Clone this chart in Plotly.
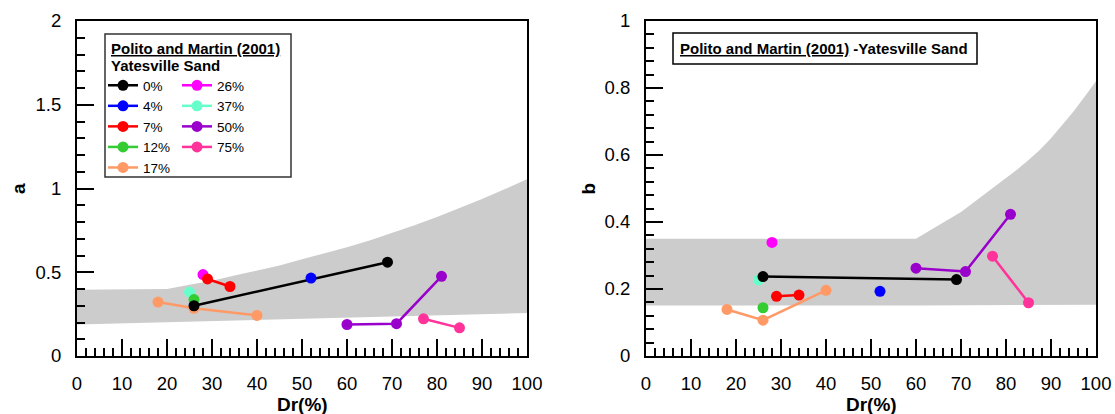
import plotly.graph_objects as go

W, H = 1115, 414
FONT = "Liberation Sans, Arial, sans-serif"

# ---------------- data ----------------
levels = ["0%", "4%", "7%", "12%", "17%", "26%", "37%", "50%", "75%"]
level_colors = ["#000000", "#0000ff", "#ff0000", "#33cc33", "#ff9966",
                "#ff00ff", "#66ffcc", "#9900cc", "#ff3399"]

# panel (a): Dr(%) and a
dr_a_0, a_0 = [26, 69], [0.30, 0.56]
dr_a_4, a_4 = [52], [0.465]
dr_a_7, a_7 = [29, 34], [0.46, 0.415]
dr_a_12, a_12 = [26], [0.337]
dr_a_17, a_17 = [18, 26, 40], [0.322, 0.285, 0.242]
dr_a_26, a_26 = [28], [0.486]
dr_a_37, a_37 = [25], [0.382]
dr_a_50, a_50 = [60, 71, 81], [0.188, 0.193, 0.476]
dr_a_75, a_75 = [77, 85], [0.222, 0.168]

# panel (b): Dr(%) and b
dr_b_0, b_0 = [26, 69], [0.237, 0.228]
dr_b_4, b_4 = [52], [0.193]
dr_b_7, b_7 = [29, 34], [0.178, 0.182]
dr_b_12, b_12 = [26], [0.144]
dr_b_17, b_17 = [18, 26, 40], [0.139, 0.107, 0.196]
dr_b_26, b_26 = [28], [0.339]
dr_b_37, b_37 = [25], [0.227]
dr_b_50, b_50 = [60, 71, 81], [0.262, 0.252, 0.423]
dr_b_75, b_75 = [77, 85], [0.298, 0.159]

# grey bands (edges)
band_a_up_x = [0, 20, 25, 30, 35, 40, 45, 50, 55, 60, 65, 70, 75, 80, 85,
               90, 95, 100]
band_a_up = [0.395, 0.40, 0.425, 0.45, 0.48, 0.51, 0.54, 0.577, 0.612, 0.65,
             0.69, 0.735, 0.78, 0.83, 0.882, 0.937, 0.995, 1.055]
band_a_lo_x = [0, 100]
band_a_lo = [0.188, 0.257]

band_b_up_x = [0, 60, 62.5, 65, 67.5, 70, 72.5, 75, 77.5, 80, 82.5, 85,
               87.5, 90, 92.5, 95, 97.5, 100]
band_b_up = [0.35, 0.35, 0.37, 0.39, 0.41, 0.43, 0.455, 0.48, 0.505, 0.53,
             0.557, 0.585, 0.615, 0.65, 0.69, 0.73, 0.775, 0.82]
band_b_lo_x = [0, 60, 100]
band_b_lo = [0.151, 0.151, 0.153]

x_ticks = [0, 10, 20, 30, 40, 50, 60, 70, 80, 90, 100]

series_a = {
    "0%": (dr_a_0, a_0), "4%": (dr_a_4, a_4), "7%": (dr_a_7, a_7),
    "12%": (dr_a_12, a_12), "17%": (dr_a_17, a_17), "26%": (dr_a_26, a_26),
    "37%": (dr_a_37, a_37), "50%": (dr_a_50, a_50), "75%": (dr_a_75, a_75),
}
series_b = {
    "0%": (dr_b_0, b_0), "4%": (dr_b_4, b_4), "7%": (dr_b_7, b_7),
    "12%": (dr_b_12, b_12), "17%": (dr_b_17, b_17), "26%": (dr_b_26, b_26),
    "37%": (dr_b_37, b_37), "50%": (dr_b_50, b_50), "75%": (dr_b_75, b_75),
}
draw_order = ["17%", "26%", "37%", "12%", "7%", "0%", "4%", "50%", "75%"]

# ---------------- figure ----------------
fig = go.Figure()

def band(xu, yu, xl, yl, xa, ya):
    fig.add_trace(go.Scatter(
        x=list(xu) + list(xl)[::-1], y=list(yu) + list(yl)[::-1],
        fill="toself", fillcolor="#cccccc", mode="lines",
        line=dict(width=0, color="#cccccc"),
        showlegend=False, hoverinfo="skip", xaxis=xa, yaxis=ya))

band(band_a_up_x, band_a_up, band_a_lo_x, band_a_lo, "x", "y")
band(band_b_up_x, band_b_up, band_b_lo_x, band_b_lo, "x2", "y2")

for lev in draw_order:
    i = levels.index(lev)
    col = level_colors[i]
    xs, ys = series_a[lev]
    fig.add_trace(go.Scatter(
        x=xs, y=ys, mode="lines+markers", name=lev,
        line=dict(color=col, width=2.5), marker=dict(color=col, size=11),
        xaxis="x", yaxis="y", showlegend=True,
        legend="legend" if i < 5 else "legend2", legendrank=i + 1))
    xs, ys = series_b[lev]
    fig.add_trace(go.Scatter(
        x=xs, y=ys, mode="lines+markers", name=lev,
        line=dict(color=col, width=2.5), marker=dict(color=col, size=11),
        xaxis="x2", yaxis="y2", showlegend=False))

# plot-area geometry (pixels)
L1, R1, L2, R2 = 77, 527, 646, 1096
TOP, BOT = 21, 356

def px(x):
    return x / W

def py(y):
    return 1 - y / H

common_x = dict(range=[0, 100], tickmode="array", tickvals=x_ticks,
                ticks="inside", ticklen=17, tickwidth=2, tickcolor="black",
                minor=dict(dtick=2, tick0=0, ticks="inside", ticklen=8,
                           tickwidth=1.5, tickcolor="black", showgrid=False),
                showline=True, linewidth=2, linecolor="black", mirror=True,
                showgrid=False, zeroline=False, automargin=False,
                tickfont=dict(family=FONT, size=18.5, color="black"),
                ticklabelstandoff=10)
common_y = dict(ticks="inside", ticklen=17, tickwidth=2, tickcolor="black",
                showline=True, linewidth=2, linecolor="black", mirror=True,
                showgrid=False, zeroline=False, automargin=False,
                tickfont=dict(family=FONT, size=18.5, color="black"),
                ticklabelstandoff=10)

leg_common = dict(xanchor="left", yanchor="top", bgcolor="rgba(0,0,0,0)",
                  borderwidth=0, tracegroupgap=0, itemwidth=30,
                  font=dict(family=FONT, size=13.5, color="black"),
                  itemclick=False, itemdoubleclick=False)

fig.update_layout(
    width=W, height=H, margin=dict(l=0, r=0, t=0, b=0),
    paper_bgcolor="white", plot_bgcolor="white",
    font=dict(family=FONT, color="black"),
    xaxis=dict(domain=[px(L1), px(R1)], anchor="y", **common_x),
    yaxis=dict(domain=[py(BOT), py(TOP)], anchor="x", range=[0, 2],
               dtick=0.5, tick0=0,
               minor=dict(dtick=0.1, tick0=0, ticks="inside", ticklen=8,
                          tickwidth=1.5, tickcolor="black", showgrid=False),
               **common_y),
    xaxis2=dict(domain=[px(L2), px(R2)], anchor="y2", **common_x),
    yaxis2=dict(domain=[py(BOT), py(TOP)], anchor="x2", range=[0, 1],
                dtick=0.2, tick0=0,
                minor=dict(dtick=0.04, tick0=0, ticks="inside", ticklen=8,
                           tickwidth=1.5, tickcolor="black", showgrid=False),
                **common_y),
    legend=dict(x=px(103), y=py(70), **leg_common),
    legend2=dict(x=px(177), y=py(70), **leg_common),
    showlegend=True,
)

# legend frame (left) and caption frame (right)
fig.add_shape(type="rect", xref="paper", yref="paper",
              x0=px(105), x1=px(291), y0=py(177), y1=py(34),
              line=dict(color="#333333", width=1.5), fillcolor="rgba(0,0,0,0)")
fig.add_shape(type="rect", xref="paper", yref="paper",
              x0=px(673), x1=px(977), y0=py(64), y1=py(33),
              line=dict(color="black", width=1.5), fillcolor="white", layer="above")

ann_font = dict(family=FONT, size=15, color="black")
fig.add_annotation(xref="paper", yref="paper", x=px(109), y=py(49),
                   xanchor="left", yanchor="middle", showarrow=False,
                   text="<b><u>Polito and Martin (2001)</u></b>", font=ann_font)
fig.add_annotation(xref="paper", yref="paper", x=px(109), y=py(65),
                   xanchor="left", yanchor="middle", showarrow=False,
                   text="<b>Yatesville Sand</b>", font=ann_font)
fig.add_annotation(xref="paper", yref="paper", x=px(678), y=py(49),
                   xanchor="left", yanchor="middle", showarrow=False,
                   text="<b><u>Polito and Martin (2001)</u> -Yatesville Sand</b>",
                   font=ann_font)

title_font = dict(family=FONT, size=19, color="black")
fig.add_annotation(xref="paper", yref="paper", x=px(18.5), y=py((TOP + BOT) / 2),
                   xanchor="center", yanchor="middle", showarrow=False,
                   text="<b>a</b>", textangle=-90, font=title_font)
fig.add_annotation(xref="paper", yref="paper", x=px(588), y=py((TOP + BOT) / 2),
                   xanchor="center", yanchor="middle", showarrow=False,
                   text="<b>b</b>", textangle=-90, font=title_font)
fig.add_annotation(xref="paper", yref="paper", x=px((L1 + R1) / 2), y=py(404),
                   xanchor="center", yanchor="middle", showarrow=False,
                   text="<b>Dr(%)</b>", font=title_font)
fig.add_annotation(xref="paper", yref="paper", x=px((L2 + R2) / 2), y=py(404),
                   xanchor="center", yanchor="middle", showarrow=False,
                   text="<b>Dr(%)</b>", font=title_font)

fig.write_html("out.html", config={"displayModeBar": False},
               post_script="document.body.style.margin='0';"
                           "document.body.style.overflow='hidden';")
